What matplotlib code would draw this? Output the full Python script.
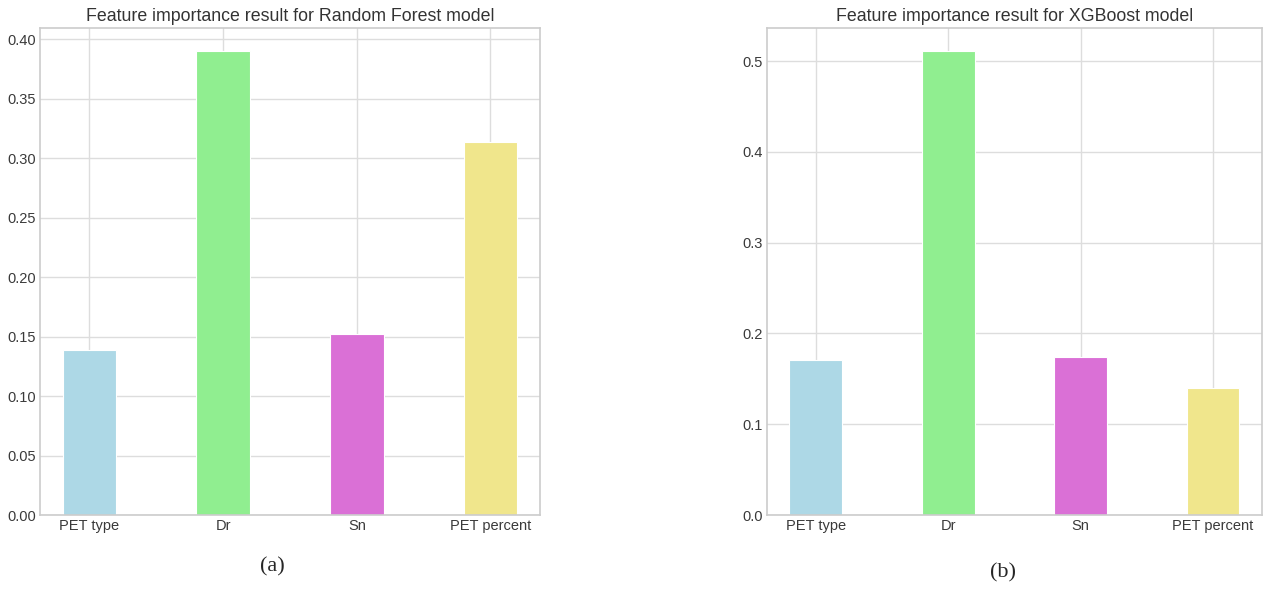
import matplotlib
matplotlib.use("Agg")
from matplotlib import pyplot as plt

FEATURES = ["PET type", "Dr", "Sn", "PET percent"]
COLORS = ["lightblue", "lightgreen", "orchid", "khaki"]
RF_IMPORTANCE = [0.139, 0.390, 0.152, 0.314]
XGB_IMPORTANCE = [0.171, 0.511, 0.174, 0.140]


def draw(ax, values, title):
    ax.bar(FEATURES, values, width=0.4, color=COLORS, edgecolor="white", linewidth=0.8)
    ax.set_title(title, fontsize=12.8, color="#333333", pad=5)
    ax.tick_params(labelsize=10.5, colors="#3a3a3a", length=0, pad=3)
    for s in ax.spines.values():
        s.set_edgecolor("#cccccc")
        s.set_linewidth(1.2)
    ax.grid(True, color="#dddddd", linewidth=1.0)
    ax.set_axisbelow(True)


def main():
    plt.style.use("seaborn-v0_8-whitegrid")
    plt.rcParams["font.family"] = ["Liberation Sans", "DejaVu Sans"]
    fig = plt.figure(figsize=(12.66, 5.9), dpi=100)
    ax1 = fig.add_axes([0.0316, 0.1271, 0.3949, 0.8254])
    ax2 = fig.add_axes([0.6058, 0.1271, 0.3910, 0.8254])
    draw(ax1, RF_IMPORTANCE, "Feature importance result for Random Forest model")
    draw(ax2, XGB_IMPORTANCE, "Feature importance result for XGBoost model")
    fig.text(272 / 1266, 1 - 567 / 590, "(a)", fontsize=16, family="Liberation Serif",
             ha="center", va="center")
    fig.text(1003 / 1266, 1 - 573 / 590, "(b)", fontsize=16, family="Liberation Serif",
             ha="center", va="center")
    fig.savefig("out.png", dpi=100)


if __name__ == '__main__':
    main()
